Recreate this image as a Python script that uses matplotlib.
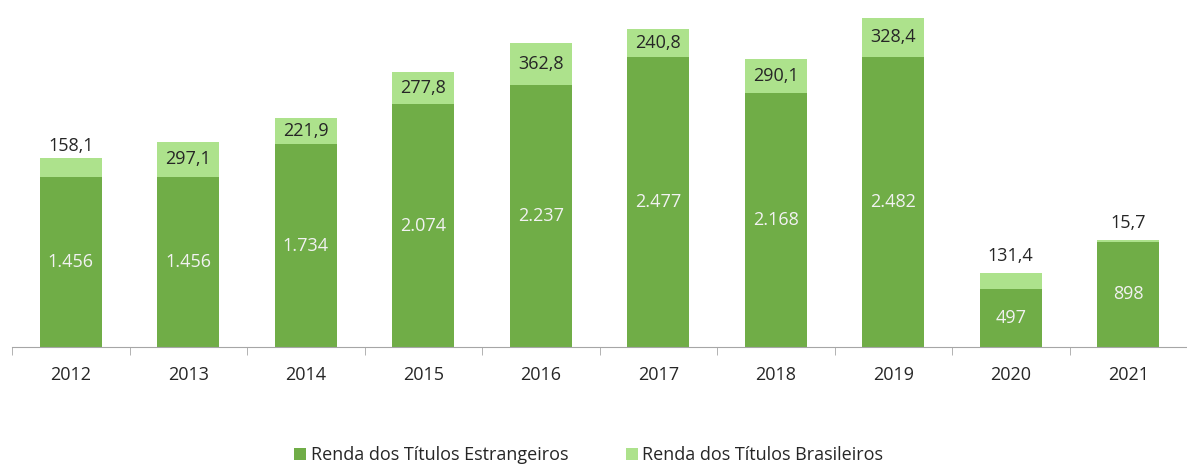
import matplotlib.pyplot as plt
import numpy as np

anos = ["2012", "2013", "2014", "2015", "2016", "2017", "2018", "2019", "2020", "2021"]
estrangeiros = [1456, 1456, 1734, 2074, 2237, 2477, 2168, 2482, 497, 898]
brasileiros = [158.1, 297.1, 221.9, 277.8, 362.8, 240.8, 290.1, 328.4, 131.4, 15.7]

cor_escura = "#70AD47"
cor_clara = "#ADE28C"

def fmt_milhar(v):
    return f"{v:,.0f}".replace(",", ".")

def fmt_dec(v):
    return f"{v:.1f}".replace(".", ",")

plt.rcParams["font.family"] = ["Open Sans", "DejaVu Sans"]

fig = plt.figure(figsize=(11.87, 4.67), dpi=100)
ax = fig.add_axes([12 / 1187, 120 / 467, 1175 / 1187, 347 / 467])

x = np.arange(len(anos))
largura = 0.53
ax.bar(x, estrangeiros, largura, color=cor_escura, label="Renda dos Títulos Estrangeiros")
ax.bar(x, brasileiros, largura, bottom=estrangeiros, color=cor_clara,
       label="Renda dos Títulos Brasileiros")

for i in x:
    ax.text(i, estrangeiros[i] / 2, fmt_milhar(estrangeiros[i]), ha="center", va="center",
            color="#F2F2F2", fontsize=13)
    if brasileiros[i] > 200:
        ax.text(i, estrangeiros[i] + brasileiros[i] / 2, fmt_dec(brasileiros[i]),
                ha="center", va="center", color="#262626", fontsize=13)
    else:
        ax.annotate(fmt_dec(brasileiros[i]), (i, estrangeiros[i] + brasileiros[i]),
                    xytext=(0, 2 if brasileiros[i] > 150 else 6), textcoords="offset points",
                    ha="center", va="bottom", color="#262626", fontsize=13)

ax.set_xlim(-0.5, len(anos) - 0.5)
ax.set_ylim(0, 2966)
ax.set_xticks(x)
ax.set_xticklabels(anos, fontsize=13, color="#262626")
ax.tick_params(axis="x", which="major", length=0, pad=14)
ax.set_xticks(np.arange(-0.5, len(anos)), minor=True)
ax.tick_params(axis="x", which="minor", length=6, color="#A6A6A6", direction="out")
ax.set_yticks([])
for lado in ["top", "right", "left"]:
    ax.spines[lado].set_visible(False)
ax.spines["bottom"].set_color("#A6A6A6")

fig.legend(loc="center", bbox_to_anchor=(0.496, 1 - 455 / 467), ncol=2, frameon=False,
           fontsize=13, handlelength=0.65, handleheight=0.65, handletextpad=0.25,
           columnspacing=3.2, labelcolor="#262626")

fig.savefig("out.png", dpi=100)
